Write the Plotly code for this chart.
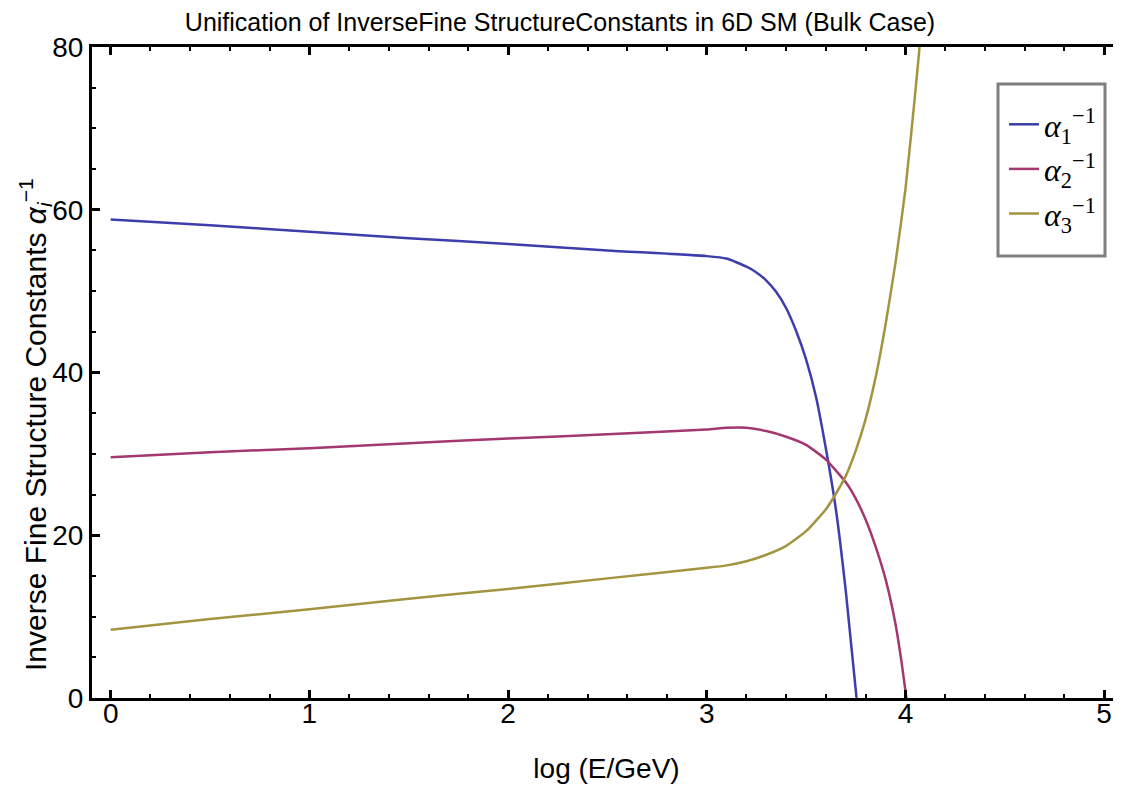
import plotly.graph_objects as go

# ---- data ----
x_blue = [0.0, 0.5, 1.0, 1.5, 2.0, 2.5, 3.0, 3.1, 3.2, 3.25, 3.3, 3.35, 3.4, 3.45, 3.5, 3.55, 3.6, 3.65, 3.7, 3.754]
y_blue = [58.8, 58.1, 57.3, 56.5, 55.8, 55.0, 54.3, 54.0, 53.0, 52.3, 51.3, 49.9, 47.9, 45.1, 41.6, 37.0, 30.6, 23.2, 13.1, 0.0]

x_red = [0.0, 0.5, 1.0, 1.5, 2.0, 2.5, 3.0, 3.1, 3.2, 3.3, 3.4, 3.5, 3.6, 3.7, 3.75, 3.8, 3.85, 3.9, 3.95, 3.98, 4.005]
y_red = [29.6, 30.2, 30.7, 31.3, 31.9, 32.4, 33.0, 33.2, 33.2, 32.8, 32.1, 31.1, 29.3, 26.5, 24.5, 21.9, 18.6, 14.6, 9.1, 4.5, 0.0]

x_yel = [0.0, 0.5, 1.0, 1.5, 2.0, 2.5, 3.0, 3.1, 3.2, 3.3, 3.4, 3.5, 3.6, 3.65, 3.7, 3.75, 3.8, 3.85, 3.9, 3.95, 4.0, 4.05, 4.075]
y_yel = [8.4, 9.7, 10.9, 12.2, 13.4, 14.7, 16.0, 16.3, 16.8, 17.6, 18.7, 20.5, 23.2, 25.1, 27.3, 30.4, 34.3, 39.4, 45.9, 53.5, 62.5, 74.5, 81.0]

names = ["<i>α</i><sub>1</sub><sup>−1</sup>",
         "<i>α</i><sub>2</sub><sup>−1</sup>",
         "<i>α</i><sub>3</sub><sup>−1</sup>"]
colors = ["#3d3dab", "#a3376f", "#a39440"]

x_ticks = [0, 1, 2, 3, 4, 5]
y_ticks = [0, 20, 40, 60, 80]

SANS = "Liberation Sans, Arial, sans-serif"

# page body has an 8px margin; figure is sized so it ends at the window edge
W, H = 1113, 784
ML, MT, MB = 84, 39, 94
PW, PH = W - ML, H - MT - MB


def px_x(px):  # page x pixel -> paper coordinate
    return (px - 8 - ML) / PW


def px_y(py):  # page y pixel -> paper coordinate
    return (H - MB - (py - 8)) / PH


fig = go.Figure()
for xs, ys, nm, col in zip([x_blue, x_red, x_yel], [y_blue, y_red, y_yel], names, colors):
    fig.add_trace(go.Scatter(x=xs, y=ys, mode="lines", name=nm,
                             line=dict(color=col, width=2.5, shape="spline", smoothing=0.5)))

# empty helper trace so the right-hand tick axis is drawn
fig.add_trace(go.Scatter(x=[], y=[], yaxis="y2", showlegend=False, hoverinfo="skip"))

fig.update_layout(
    width=W, height=H,
    margin=dict(l=ML, r=0, t=MT, b=MB, autoexpand=False),
    paper_bgcolor="white", plot_bgcolor="white",
    title=dict(text="Unification of InverseFine StructureConstants in 6D SM (Bulk Case)",
               x=(560 - 8) / W, xref="container", xanchor="center",
               y=1 - 14 / H, yref="container", yanchor="middle",
               font=dict(family=SANS, size=25, color="black")),
    xaxis=dict(range=[-0.094, 5.085], tickvals=x_ticks, ticks="inside", ticklen=8, tickwidth=2.5,
               tickcolor="black", showline=True, linewidth=3, linecolor="black", mirror="ticks",
               showgrid=False, zeroline=False, automargin=False, ticklabelstandoff=-12,
               minor=dict(dtick=0.2, ticks="inside", ticklen=4, tickwidth=2, tickcolor="black"),
               tickfont=dict(family=SANS, size=28, color="black"),
               title=dict(text="log (E/GeV)", font=dict(family=SANS, size=28, color="black"), standoff=31)),
    yaxis=dict(range=[0, 80], tickvals=y_ticks, ticks="inside", ticklen=8, tickwidth=2.5,
               tickcolor="black", showline=True, linewidth=3, linecolor="black", mirror=False,
               showgrid=False, zeroline=False, automargin=False,
               minor=dict(dtick=5, ticks="inside", ticklen=4, tickwidth=2, tickcolor="black"),
               tickfont=dict(family=SANS, size=28, color="black")),
    yaxis2=dict(range=[0, 80], overlaying="y", side="right", tickvals=y_ticks, ticks="inside",
                ticklen=8, tickwidth=2.5, tickcolor="black", showticklabels=False, automargin=False,
                showline=False, showgrid=False, zeroline=False,
                minor=dict(dtick=5, ticks="inside", ticklen=4, tickwidth=2, tickcolor="black")),
    legend=dict(x=px_x(1004), y=px_y(97), xanchor="left", yanchor="top",
                bgcolor="rgba(0,0,0,0)", borderwidth=0,
                font=dict(family="Liberation Serif, Times New Roman, serif", size=32, color="black"),
                itemwidth=30),
    showlegend=True,
)

# legend frame
fig.add_shape(type="rect", xref="paper", yref="paper",
              x0=px_x(998), x1=px_x(1105), y0=px_y(256), y1=px_y(84),
              line=dict(color="#7f7f7f", width=3), fillcolor="white", layer="above")

fig.add_annotation(text="Inverse Fine Structure Constants <i>α</i><sub><i>i</i></sub><sup>−1</sup>",
                   textangle=-90, xref="paper", yref="paper",
                   x=px_x(35), y=px_y(425), xanchor="center", yanchor="middle",
                   showarrow=False, font=dict(family=SANS, size=30, color="black"))

fig.write_html("out.html")
